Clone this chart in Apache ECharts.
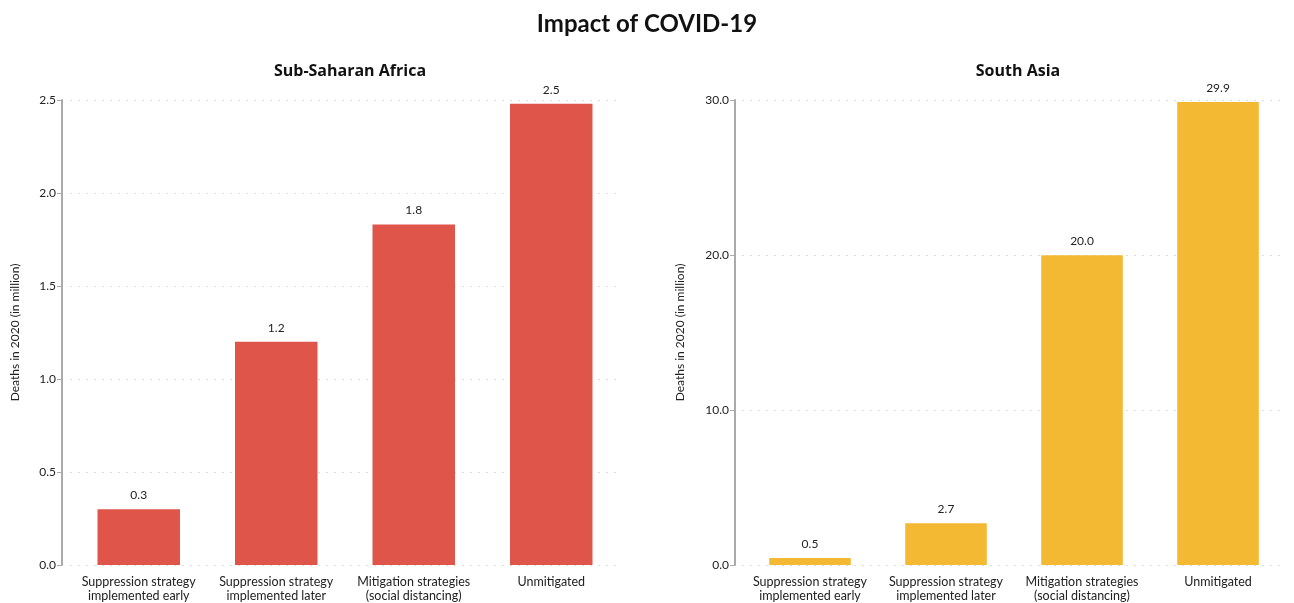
<!DOCTYPE html>
<html><head><meta charset="utf-8">
<script src="https://cdn.jsdelivr.net/npm/echarts@6/dist/echarts.min.js"></script>
<style>html,body{margin:0;padding:0;background:#fff}#c{width:1294px;height:603px}</style>
</head><body><div id="c"></div>
<script>
const categories = ["Suppression strategy\nimplemented early", "Suppression strategy\nimplemented later", "Mitigation strategies\n(social distancing)", "Unmitigated"];
const africaValues = [0.3, 1.2, 1.83, 2.48];
const southAsiaValues = [0.45, 2.7, 19.98, 29.87];
const africaTicks = { min: 0, max: 2.5, interval: 0.5 };
const asiaTicks = { min: 0, max: 30, interval: 10 };

const FONT = 'Lato, "Open Sans", sans-serif';
const chart = echarts.init(document.getElementById('c'));
function yAxis(gridIndex, t, offset, nameGap) {
  return {
    type: 'value', gridIndex, min: t.min, max: t.max, interval: t.interval, offset,
    name: 'Deaths in 2020 (in million)', nameLocation: 'middle', nameGap,
    nameTextStyle: { fontFamily: FONT, fontSize: 12, color: '#222' },
    axisLine: { show: true, lineStyle: { color: '#aaa', width: 2 } },
    axisTick: { show: true, length: 5, lineStyle: { color: '#aaa' } },
    axisLabel: { fontFamily: FONT, fontSize: 12, color: '#222', margin: 6, formatter: v => v.toFixed(1) },
    splitLine: { show: true, lineStyle: { color: '#ddd', type: [2, 6], width: 1 } }
  };
}
function xAxis(gridIndex) {
  return {
    type: 'category', gridIndex, data: categories,
    axisLine: { show: false }, axisTick: { show: false },
    axisLabel: { fontFamily: FONT, fontSize: 12.5, color: '#222', margin: 10, lineHeight: 14, interval: 0 }
  };
}
function series(idx, data, color) {
  return {
    type: 'bar', xAxisIndex: idx, yAxisIndex: idx, data, barWidth: '60%',
    itemStyle: { color },
    label: { show: true, position: 'top', distance: 8, fontFamily: FONT, fontSize: 12, color: '#222', formatter: p => p.value.toFixed(1) }
  };
}
chart.setOption({
  animation: false,
  title: [
    { text: 'Impact of COVID-19', left: 'center', top: 7, textStyle: { fontFamily: FONT, fontSize: 24, fontWeight: 'bold', color: '#111' } },
    { text: 'Sub-Saharan Africa', left: 345, textAlign: 'center', top: 58, textStyle: { fontFamily: '"Open Sans", sans-serif', fontSize: 16, fontWeight: 'bold', color: '#111' } },
    { text: 'South Asia', left: 1013, textAlign: 'center', top: 58, textStyle: { fontFamily: '"Open Sans", sans-serif', fontSize: 16, fontWeight: 'bold', color: '#111' } }
  ],
  grid: [
    { left: 70, right: 674, top: 100, bottom: 36 },
    { left: 742, right: 8, top: 100, bottom: 36 }
  ],
  xAxis: [xAxis(0), xAxis(1)],
  yAxis: [yAxis(0, africaTicks, 8, 41), yAxis(1, asiaTicks, 7, 49)],
  series: [series(0, africaValues, '#E0554A'), series(1, southAsiaValues, '#F4B933')]
});
</script></body></html>
